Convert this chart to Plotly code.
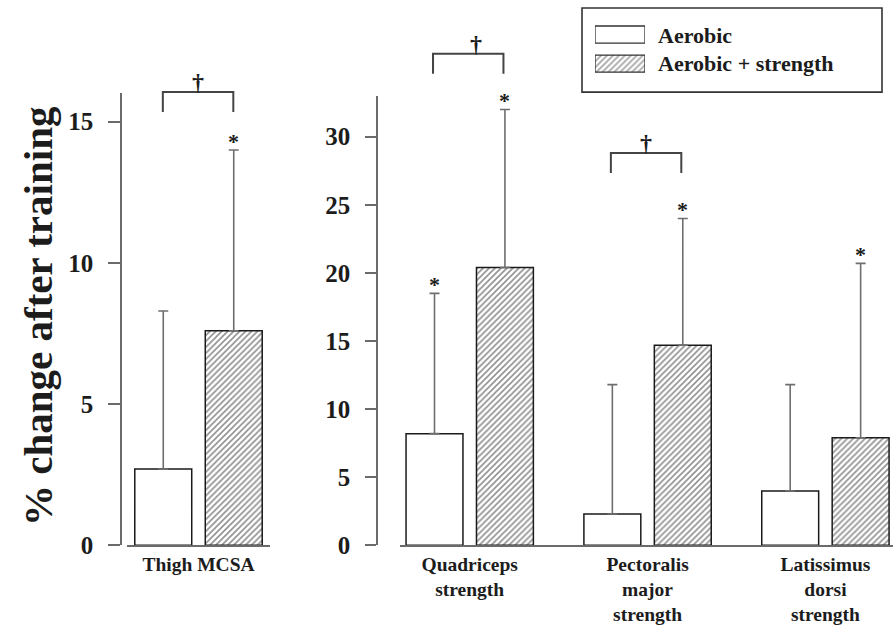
import plotly.graph_objects as go

# ---------------- data ----------------
series_names = ["Aerobic", "Aerobic + strength"]

left_categories = ["Thigh MCSA"]
right_categories = ["Quadriceps<br>strength", "Pectoralis<br>major<br>strength", "Latissimus<br>dorsi<br>strength"]

aerobic_left = [2.7]
aerobic_left_err = [5.6]          # upper SD (top at 8.3)
combo_left = [7.6]
combo_left_err = [6.4]            # top at 14.0

aerobic_right = [8.2, 2.3, 4.0]
aerobic_right_err = [10.3, 9.5, 7.8]   # tops 18.5, 11.8, 11.8
combo_right = [20.4, 14.7, 7.9]
combo_right_err = [11.6, 9.3, 12.8]    # tops 32.0, 24.0, 20.7

# significance flags
aerobic_left_star = [False]
combo_left_star = [True]
aerobic_right_star = [True, False, False]
combo_right_star = [True, True, True]

left_dagger = [True]
right_dagger = [True, True, False]
left_bracket_top = [16.05]
right_bracket_top = [36.1, 28.8, 0]

left_ticks = [0, 5, 10, 15]
right_ticks = [0, 5, 10, 15, 20, 25, 30]

# ---------------- geometry / style ----------------
W, H = 893, 627        # target picture size (layout is expressed in these pixels)
PAGE_H = 642           # height of the captured page area


def px(x):   # target pixel -> paper x
    return x / W


def py(y):   # target pixel -> paper y
    return (H - y) / H


FONT = "Liberation Serif"
TXT = "#1c1c1c"
AX = "#6a6a6a"
BAR_OFF = 0.198  # half distance between paired bar centres (category units)

XL_RANGE = [-0.4017, 0.4017]
XR_RANGE = [-0.392, 2.380]
YL_RANGE = [0, 16]
YR_RANGE = [0, 33]
Y_BOTTOM = py(544.5)
YL_TOP = py(93.3)
YR_TOP = py(95.7)

hatch = dict(shape="/", fgcolor="#222222", bgcolor="white", size=4.2, solidity=0.38)
outline = dict(color="#1a1a1a", width=1.5)


def err(vals):
    return dict(type="data", array=vals, arrayminus=[0] * len(vals), symmetric=False,
                color="#6e6e6e", thickness=1.6, width=5)


fig = go.Figure()

left_x = list(range(len(left_categories)))
right_x = list(range(len(right_categories)))

fig.add_trace(go.Bar(x=left_x, y=aerobic_left, xaxis="x", yaxis="y", name=series_names[0],
                     marker=dict(color="white", line=outline), error_y=err(aerobic_left_err),
                     showlegend=False, hoverinfo="skip"))
fig.add_trace(go.Bar(x=left_x, y=combo_left, xaxis="x", yaxis="y", name=series_names[1],
                     marker=dict(color="white", line=outline, pattern=hatch), error_y=err(combo_left_err),
                     showlegend=False, hoverinfo="skip"))
fig.add_trace(go.Bar(x=right_x, y=aerobic_right, xaxis="x2", yaxis="y2", name=series_names[0],
                     marker=dict(color="white", line=outline), error_y=err(aerobic_right_err),
                     showlegend=False, hoverinfo="skip"))
fig.add_trace(go.Bar(x=right_x, y=combo_right, xaxis="x2", yaxis="y2", name=series_names[1],
                     marker=dict(color="white", line=outline, pattern=hatch), error_y=err(combo_right_err),
                     showlegend=False, hoverinfo="skip"))

# custom legend swatches (extra hidden axis)
fig.add_trace(go.Bar(y=[1, 0], x=[1, 1], orientation="h", xaxis="x3", yaxis="y3", width=[0.59, 0.59],
                     marker=dict(color=["white", "white"], line=dict(color="#333", width=1.3),
                                 pattern=dict(shape=["", "/"], fgcolor="#222222", bgcolor="white",
                                              size=4.2, solidity=0.38)),
                     showlegend=False, hoverinfo="skip"))

axis_common = dict(showline=True, linecolor=AX, linewidth=1.5, showgrid=False, zeroline=False)
yfont = dict(family=FONT, size=25, color=TXT, weight="bold")
xfont = dict(family=FONT, size=19.5, color=TXT, weight="bold")

fig.update_layout(
    width=W, height=PAGE_H, margin=dict(l=0, r=0, t=0, b=0),
    paper_bgcolor="white", plot_bgcolor="white",
    barmode="group", bargap=0.208, bargroupgap=0.192,
    xaxis=dict(domain=[px(127), px(270)], range=XL_RANGE, anchor="y", tickvals=left_x,
               ticktext=left_categories, ticks="", tickfont=xfont, ticklabelstandoff=0, **axis_common),
    yaxis=dict(domain=[Y_BOTTOM, YL_TOP], range=YL_RANGE, anchor="free", position=px(121),
               tickvals=left_ticks, ticks="outside", ticklen=12, tickcolor=AX, tickwidth=1.5,
               tickfont=yfont, ticklabelstandoff=10, **axis_common),
    xaxis2=dict(domain=[px(400), 1.0], range=XR_RANGE, anchor="y2", tickvals=right_x,
                ticktext=right_categories, ticks="", tickfont=xfont, ticklabelstandoff=0, **axis_common),
    yaxis2=dict(domain=[Y_BOTTOM, YR_TOP], range=YR_RANGE, anchor="free", position=px(377),
                tickvals=right_ticks, ticks="outside", ticklen=11, tickcolor=AX, tickwidth=1.5,
                tickfont=yfont, ticklabelstandoff=10, **axis_common),
    xaxis3=dict(domain=[px(595), px(645)], range=[0, 1], visible=False, anchor="y3"),
    yaxis3=dict(domain=[py(78), py(20)], range=[-0.5, 1.5], visible=False, anchor="x3"),
)

annotations = []
shapes = []


def xdom(x, rng):
    return (x - rng[0]) / (rng[1] - rng[0])


def add_stars(xs, tops, flags, xref, yref):
    for x, t, f in zip(xs, tops, flags):
        if f:
            annotations.append(dict(x=x, y=t, xref=xref, yref=yref, text="*", showarrow=False,
                                    yanchor="bottom", yshift=-6,
                                    font=dict(family=FONT, size=22, color=TXT, weight="bold")))


add_stars([x - BAR_OFF for x in left_x], [a + e for a, e in zip(aerobic_left, aerobic_left_err)],
          aerobic_left_star, "x", "y")
add_stars([x + BAR_OFF for x in left_x], [a + e for a, e in zip(combo_left, combo_left_err)],
          combo_left_star, "x", "y")
add_stars([x - BAR_OFF for x in right_x], [a + e for a, e in zip(aerobic_right, aerobic_right_err)],
          aerobic_right_star, "x2", "y2")
add_stars([x + BAR_OFF for x in right_x], [a + e for a, e in zip(combo_right, combo_right_err)],
          combo_right_star, "x2", "y2")


def add_brackets(xs, tops, flags, xrng, yrng, xref, yref, leg):
    for x, t, f in zip(xs, tops, flags):
        if not f:
            continue
        xa = xdom(x - BAR_OFF, xrng) - 0.003
        xb = xdom(x + BAR_OFF, xrng) - 0.003
        yt = t / yrng[1]
        yl = (t - leg) / yrng[1]
        shapes.append(dict(type="path", xref=xref + " domain", yref=yref + " domain",
                           path=f"M {xa} {yl} L {xa} {yt} L {xb} {yt} L {xb} {yl}",
                           line=dict(color="#444", width=2)))
        annotations.append(dict(x=(xa + xb) / 2, y=yt, xref=xref + " domain", yref=yref + " domain",
                                text="†", showarrow=False, yanchor="bottom", yshift=-5,
                                font=dict(family=FONT, size=24, color=TXT, weight="bold")))


add_brackets(left_x, left_bracket_top, left_dagger, XL_RANGE, YL_RANGE, "x", "y", 0.71)
add_brackets(right_x, right_bracket_top, right_dagger, XR_RANGE, YR_RANGE, "x2", "y2", 1.47)

# y-axis title
annotations.append(dict(x=px(38), y=py(315.5), xref="paper", yref="paper",
                        text="% change after training", textangle=-90, showarrow=False,
                        xanchor="center", yanchor="middle",
                        font=dict(family=FONT, size=41, color=TXT, weight="bold")))

# legend box and labels
shapes.append(dict(type="rect", xref="paper", yref="paper", x0=px(582), x1=px(882),
                   y0=py(92), y1=py(8), line=dict(color="#333", width=1.6)))
for i, name in enumerate(series_names):
    annotations.append(dict(x=px(656), y=py(35 + 28.5 * i), xref="paper", yref="paper",
                            text=name, showarrow=False, xanchor="left", yanchor="middle",
                            font=dict(family=FONT, size=22, color=TXT, weight="bold")))

fig.update_layout(annotations=annotations, shapes=shapes)

fig.write_html("out.html", config={"displayModeBar": False},
               post_script="document.body.style.margin='0';")
